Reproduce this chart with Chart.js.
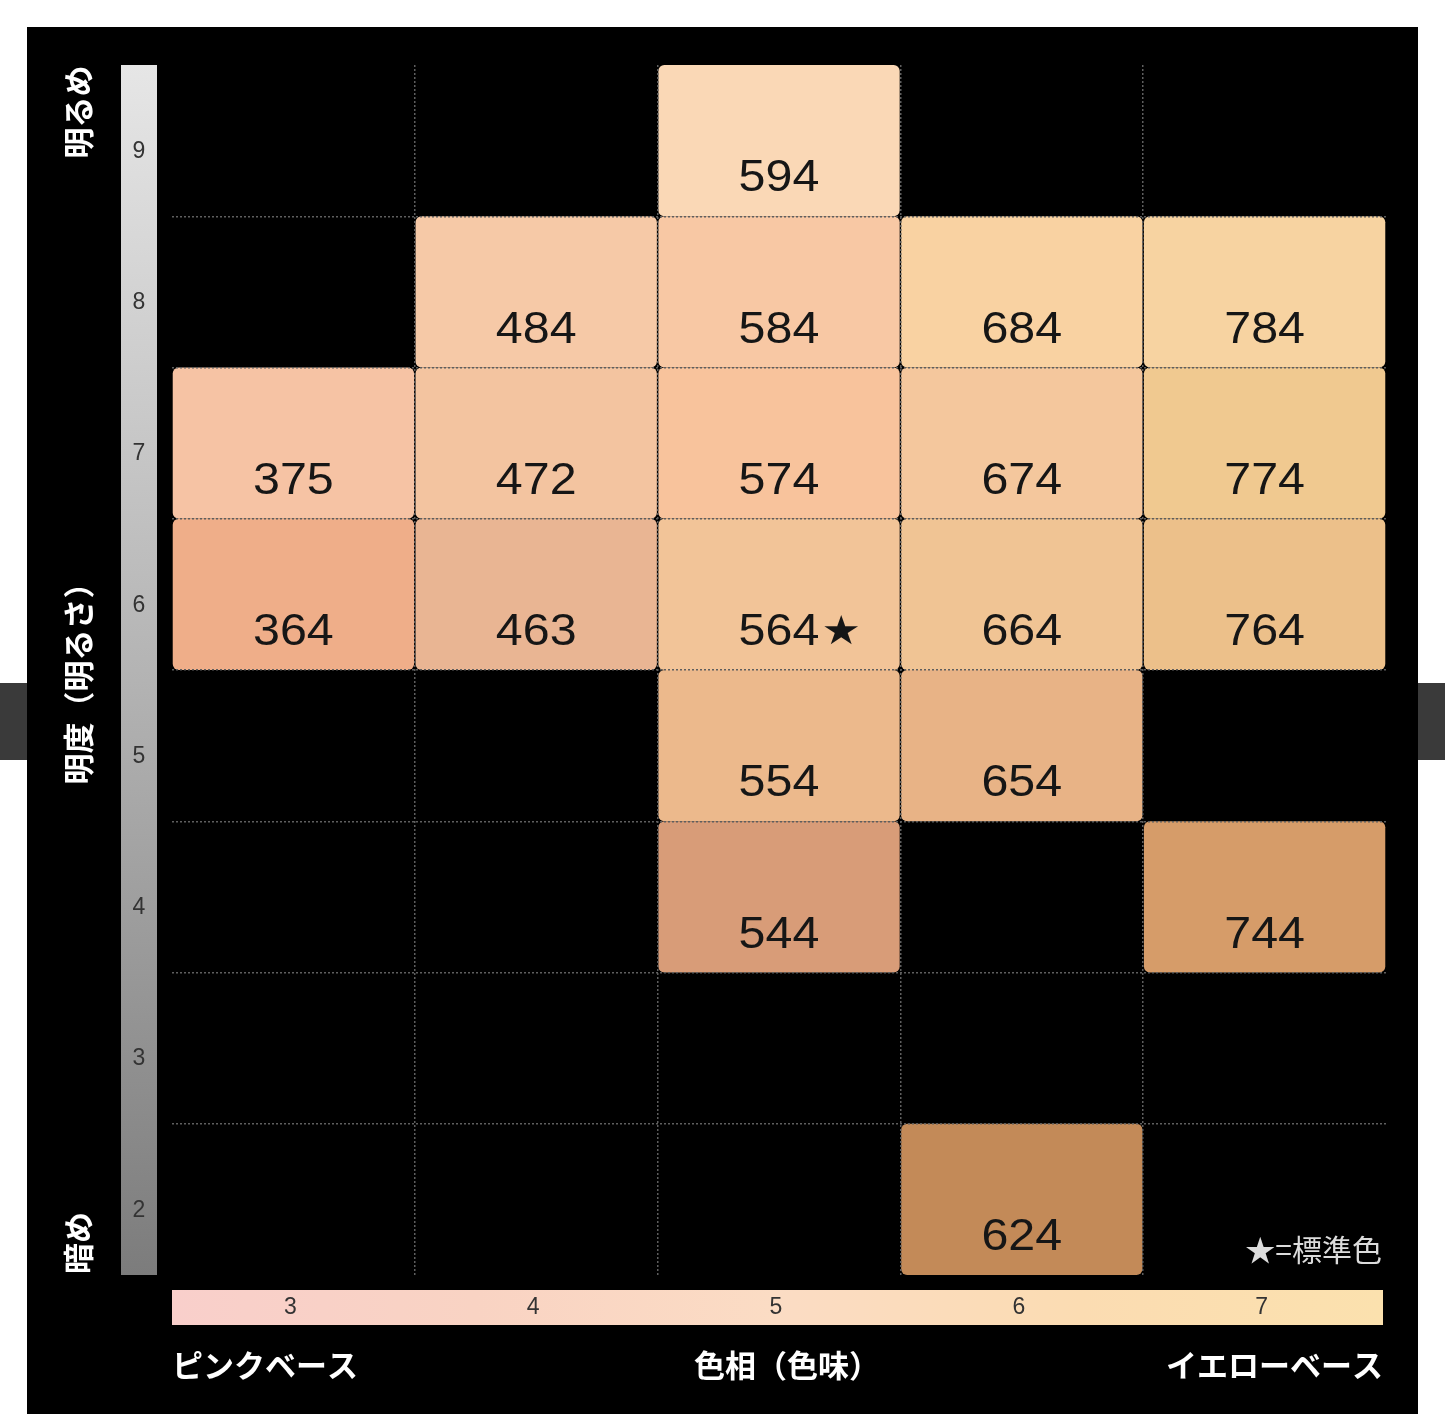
<!DOCTYPE html>
<html>
<head>
<meta charset="utf-8">
<script src="https://cdn.jsdelivr.net/npm/chart.js@4/dist/chart.umd.min.js"></script>
<style>
html,body{margin:0;padding:0;background:#fff;}
canvas{display:block;}
</style>
</head>
<body>
<canvas id="c" width="1445" height="1414"></canvas>
<script>
// ---- data ----
const hueLabels = ['3', '4', '5', '6', '7'];
const levelLabels = [9, 8, 7, 6, 5, 4, 3, 2];
const cellCodes  = ['594','484','584','684','784','375','472','574','674','774','364','463','564','664','764','554','654','544','744','624'];
const cellHue    = ['5','4','5','6','7','3','4','5','6','7','3','4','5','6','7','5','6','5','7','6'];
const cellLevel  = [9,8,8,8,8,7,7,7,7,7,6,6,6,6,6,5,5,4,4,2];
const cellColors = ['#fad8b6','#f6c9a7','#f8c8a4','#f9d2a2','#f7d3a1','#f6c3a4','#f3c4a0','#f8c39c','#f4c79d','#f0c990',
                    '#efae89','#e9b593','#f2c498','#f0c494','#ecc08a','#ecb98c','#e8b386','#d89c78','#d69c69','#c38a58'];
const standardCode = '564';
const hueTitle = '色相（色味）';
const hueLeftLabel = 'ピンクベース';
const hueRightLabel = 'イエローベース';
const levelTitle = '明度（明るさ）';
const levelTopLabel = '明るめ';
const levelBottomLabel = '暗め';
const legendText = '★=標準色';

// ---- build datasets: one per brightness level ----
const datasets = levelLabels.map(lvl => {
  const data = hueLabels.map(() => null);
  const colors = hueLabels.map(() => 'rgba(0,0,0,0)');
  cellCodes.forEach((code, i) => {
    if (cellLevel[i] === lvl) {
      const hi = hueLabels.indexOf(cellHue[i]);
      data[hi] = [lvl - 0.5, lvl + 0.5];
      colors[hi] = cellColors[i];
    }
  });
  return {
    label: String(lvl),
    data: data,
    backgroundColor: colors,
    borderWidth: 0,
    borderRadius: 6,
    borderSkipped: false,
    grouped: false,
    barPercentage: 1,
    categoryPercentage: 0.994
  };
});

const levelBoundaries = levelLabels.slice(0, -1).map(l => l - 0.5); // 8.5 ... 2.5

const decor = {
  id: 'decor',
  beforeDraw(chart) {
    const ctx = chart.ctx;
    ctx.save();
    ctx.fillStyle = '#ffffff';
    ctx.fillRect(0, 0, chart.width, chart.height);
    ctx.fillStyle = '#000000';
    ctx.fillRect(27, 27, 1391, chart.height - 27);
    ctx.fillStyle = '#3a3a3a';
    ctx.fillRect(0, 683, 27, 77);
    ctx.fillRect(1418, 683, 27, 77);
    ctx.restore();
  },
  afterDraw(chart) {
    const ctx = chart.ctx;
    const xs = chart.scales.x, ys = chart.scales.y;
    const area = chart.chartArea;
    ctx.save();

    // cell labels
    cellCodes.forEach((code, i) => {
      const hi = hueLabels.indexOf(cellHue[i]);
      const cx = xs.getPixelForValue(hi);
      const by = ys.getPixelForValue(cellLevel[i] - 0.5);
      ctx.save();
      ctx.translate(cx, by - 25);
      ctx.scale(1.1, 1);
      ctx.font = '44px "Liberation Sans", Arial, sans-serif';
      ctx.fillStyle = '#161616';
      ctx.textAlign = 'center';
      ctx.textBaseline = 'alphabetic';
      ctx.fillText(code, 0, 0);
      const w = ctx.measureText(code).width;
      if (code === standardCode) {
        ctx.font = '40px "DejaVu Sans", sans-serif';
        ctx.textAlign = 'left';
        ctx.fillText('★', w / 2 + 2, -1);
      }
      ctx.restore();
    });

    // left brightness bar
    const top = area.top, bottom = area.bottom;
    const lg = ctx.createLinearGradient(0, top, 0, bottom);
    lg.addColorStop(0, '#e6e6e6');
    lg.addColorStop(0.5, '#b4b4b4');
    lg.addColorStop(1, '#7c7c7c');
    ctx.fillStyle = lg;
    ctx.fillRect(121, top, 36, bottom - top);
    ctx.font = '23px "Liberation Sans", Arial, sans-serif';
    ctx.fillStyle = '#333';
    ctx.textAlign = 'center';
    ctx.textBaseline = 'middle';
    levelLabels.forEach(l => {
      ctx.fillText(String(l), 139, ys.getPixelForValue(l) + 11);
    });

    // bottom hue bar
    const bx0 = area.left, bx1 = area.right - 3;
    const hg = ctx.createLinearGradient(bx0, 0, bx1, 0);
    hg.addColorStop(0, '#f9cfcb');
    hg.addColorStop(0.25, '#f9d3c3');
    hg.addColorStop(0.5, '#fbdcc4');
    hg.addColorStop(0.75, '#fbdcb2');
    hg.addColorStop(1, '#fbe1ae');
    ctx.fillStyle = hg;
    ctx.fillRect(bx0, 1290, bx1 - bx0, 35);
    ctx.fillStyle = '#333';
    ctx.font = '23px "Liberation Sans", Arial, sans-serif';
    hueLabels.forEach((h, i) => {
      ctx.fillText(h, xs.getPixelForValue(i) - 3, 1308);
    });

    // bottom titles
    ctx.fillStyle = '#ffffff';
    ctx.font = 'bold 31px "Noto Sans CJK JP", sans-serif';
    ctx.textBaseline = 'middle';
    ctx.textAlign = 'left';
    ctx.fillText(hueLeftLabel, 172, 1365);
    ctx.textAlign = 'center';
    ctx.fillText(hueTitle, 787, 1365);
    ctx.textAlign = 'right';
    ctx.fillText(hueRightLabel, 1383, 1365);

    // legend
    ctx.fillStyle = '#dcdcdc';
    ctx.font = '30px "Noto Sans CJK JP", sans-serif';
    ctx.textAlign = 'right';
    ctx.fillText(legendText, 1382, 1250);

    // left vertical titles
    const vText = (txt, cy) => {
      ctx.save();
      ctx.translate(78, cy);
      ctx.rotate(-Math.PI / 2);
      ctx.fillStyle = '#ffffff';
      ctx.font = 'bold 31px "Noto Sans CJK JP", sans-serif';
      ctx.textAlign = 'center';
      ctx.textBaseline = 'middle';
      ctx.fillText(txt, 0, 0);
      ctx.restore();
    };
    vText(levelTopLabel, 112);
    vText(levelTitle, 676);
    vText(levelBottomLabel, 1243);

    ctx.restore();
  }
};

new Chart(document.getElementById('c'), {
  type: 'bar',
  data: { labels: hueLabels, datasets: datasets },
  options: {
    responsive: false,
    animation: false,
    devicePixelRatio: 1,
    layout: { padding: { left: 172, top: 65, right: 59, bottom: 139 } },
    plugins: { legend: { display: false }, tooltip: { enabled: false } },
    scales: {
      x: {
        type: 'category',
        offset: true,
        ticks: { display: false },
        grid: {
          offset: true,
          drawTicks: false,
          z: 1,
          lineWidth: 1.5,
          color: ctx => (ctx.type !== 'tick' || ctx.index === 0) ? 'rgba(0,0,0,0)' : '#5e5e5e'
        },
        border: { display: false, dash: [2, 2] }
      },
      y: {
        type: 'linear',
        min: Math.min(...levelLabels) - 0.5,
        max: Math.max(...levelLabels) + 0.5,
        afterBuildTicks: s => { s.ticks = levelBoundaries.map(v => ({ value: v })); },
        ticks: { display: false },
        grid: { drawTicks: false, z: 1, lineWidth: 1.5, color: '#5e5e5e' },
        border: { display: false, dash: [2, 2] }
      }
    }
  },
  plugins: [decor]
});
</script>
</body>
</html>
